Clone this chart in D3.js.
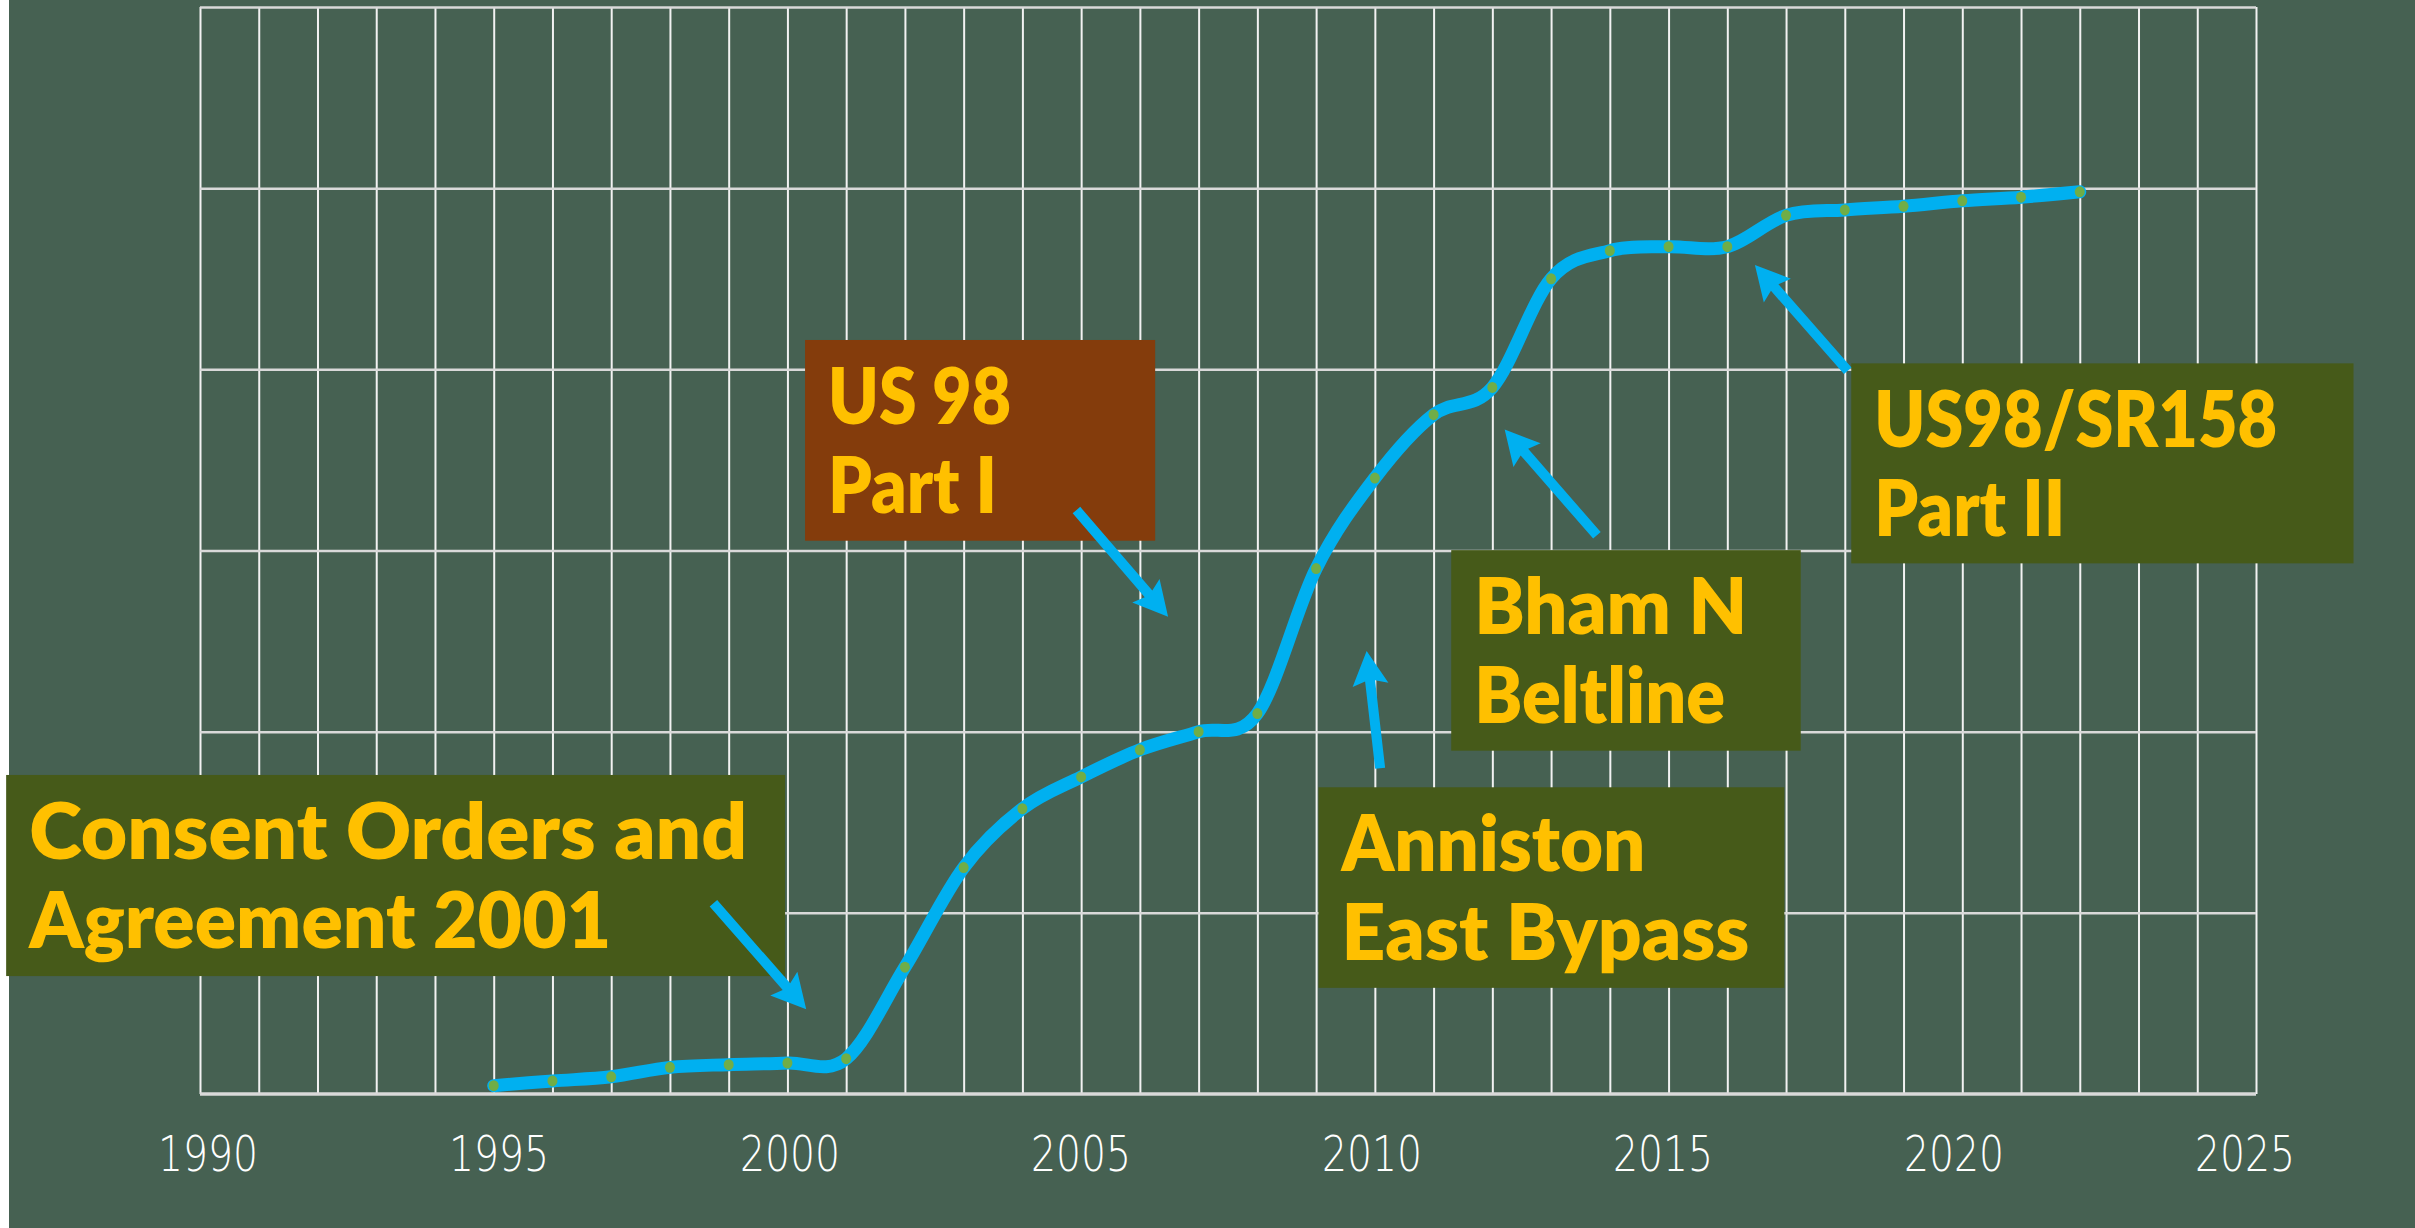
<!DOCTYPE html>
<html>
<head>
<meta charset="utf-8">
<script src="https://cdn.jsdelivr.net/npm/d3@7/dist/d3.min.js"></script>
<style>
  body { margin: 0; background: #ffffff; }
  svg { display: block; }
</style>
</head>
<body>
<svg id="chart" width="2415" height="1228"></svg>
<script>
// yearly totals (arbitrary units, grid = 10)
var years = [1995, 1996, 1997, 1998, 1999, 2000, 2001, 2002, 2003, 2004,
             2005, 2006, 2007, 2008, 2009, 2010, 2011, 2012, 2013, 2014,
             2015, 2016, 2017, 2018, 2019, 2020, 2021, 2022];
var totals = [0.46, 0.72, 0.95, 1.47, 1.62, 1.71, 1.95, 7.0, 12.5, 15.75,
              17.5, 19.0, 20.0, 21.0, 29.0, 34.0, 37.5, 39.0, 45.0, 46.55,
              46.77, 46.77, 48.5, 48.8, 49.0, 49.3, 49.5, 49.8];

var tickYears = [1990, 1995, 2000, 2005, 2010, 2015, 2020, 2025];
var tickLabels = ["1990", "1995", "2000", "2005", "2010", "2015", "2020", "2025"];

// callouts: text lines, box corners and arrow tail/tip in data units
var noteLines = [
  ["Consent Orders and", "Agreement 2001"],
  ["US 98", "Part I"],
  ["Bham N", "Beltline"],
  ["Anniston", "East Bypass"],
  ["US98/SR158", "Part II"]
];
var noteBoxYears = [[1986.70, 1999.96], [2000.30, 2006.26], [2011.30, 2017.25], [2009.04, 2016.97], [2018.11, 2026.66]];
var noteBoxValues = [[17.61, 6.51], [41.62, 30.54], [30.02, 18.95], [16.93, 5.86], [40.33, 29.29]];
var arrowTails = [[1998.74, 10.53], [2004.92, 32.23], [2013.78, 30.84], [2010.09, 17.98], [2018.05, 39.92]];
var arrowTips = [[2000.32, 4.68], [2006.48, 26.35], [2012.21, 36.68], [2009.86, 24.45], [2016.47, 45.76]];

var noteFills = ["#465a19", "#843c0c", "#465a19", "#465a19", "#465a19"];
var noteWidths = [[718, 582], [183, 169], [273, 251], [304, 408], [403, 191]];

var svg = d3.select("#chart");

var plotL = 200, plotR = 2256, plotT = 7, plotB = 1094;

var x = d3.scaleLinear().domain([1990, 2025]).range([plotL, plotR]);
var y = d3.scaleLinear().domain([0, 60]).range([plotB, plotT]);
// the tick labels sit a bit inside the outer gridlines
var xLabel = d3.scaleLinear().domain([1990, 2025]).range([208, 2245]);

svg.append("rect")
  .attr("x", 9).attr("y", 0)
  .attr("width", 2415 - 9).attr("height", 1228)
  .attr("fill", "#466152");

// vertical grid, one line per year
svg.append("g")
  .attr("transform", "translate(0," + plotB + ")")
  .call(d3.axisBottom(x).tickValues(d3.range(1990, 2026)).tickSize(-(plotB - plotT)).tickFormat(""))
  .call(function(g) {
    g.select(".domain").remove();
    g.selectAll("line").attr("stroke", "#f2f2f2").attr("stroke-width", 2);
  });

// horizontal grid
svg.append("g")
  .attr("transform", "translate(" + plotL + ",0)")
  .call(d3.axisLeft(y).tickValues([10, 20, 30, 40, 50, 60]).tickSize(-(plotR - plotL)).tickFormat(""))
  .call(function(g) {
    g.select(".domain").remove();
    g.selectAll("line").attr("stroke", "#d9d9d9").attr("stroke-width", 2.5);
  });

svg.append("line")
  .attr("x1", plotL).attr("x2", plotR)
  .attr("y1", y(0)).attr("y2", y(0))
  .attr("stroke", "#d9d9d9").attr("stroke-width", 3.5);

svg.append("g").selectAll("text")
  .data(tickYears)
  .enter().append("text")
    .attr("x", function(d) { return xLabel(d); })
    .attr("y", 1171)
    .attr("text-anchor", "middle")
    .attr("font-family", "'DejaVu Sans', sans-serif")
    .attr("font-weight", 200)
    .attr("font-size", 50)
    .attr("fill", "#ffffff")
    .attr("textLength", 100)
    .attr("lengthAdjust", "spacingAndGlyphs")
    .text(function(d, i) { return tickLabels[i]; });

// the smoothed line
var points = years.map(function(yr, i) { return [yr, totals[i]]; });
var line = d3.line()
  .x(function(d) { return x(d[0]); })
  .y(function(d) { return y(d[1]); })
  .curve(d3.curveCardinal.tension(0));

svg.append("path")
  .datum(points)
  .attr("d", line)
  .attr("fill", "none")
  .attr("stroke", "#00b0f0")
  .attr("stroke-width", 13)
  .attr("stroke-linecap", "round")
  .attr("stroke-linejoin", "round");

svg.append("g").selectAll("ellipse")
  .data(points)
  .enter().append("ellipse")
    .attr("cx", function(d) { return x(d[0]); })
    .attr("cy", function(d) { return y(d[1]); })
    .attr("rx", 5)
    .attr("ry", 5.5)
    .attr("fill", "#70ad47");

// callout boxes
var notes = svg.append("g").selectAll("g")
  .data(noteLines)
  .enter().append("g");

notes.append("rect")
  .attr("x", function(d, i) { return x(noteBoxYears[i][0]); })
  .attr("y", function(d, i) { return y(noteBoxValues[i][0]); })
  .attr("width", function(d, i) { return x(noteBoxYears[i][1]) - x(noteBoxYears[i][0]); })
  .attr("height", function(d, i) { return y(noteBoxValues[i][1]) - y(noteBoxValues[i][0]); })
  .attr("fill", function(d, i) { return noteFills[i]; });

notes.each(function(lines, i) {
  var g = d3.select(this);
  var bx = x(noteBoxYears[i][0]) + 23;
  var by = y(noteBoxValues[i][0]);
  lines.forEach(function(t, j) {
    g.append("text")
      .attr("x", bx)
      .attr("y", by + 84 + j * 89)
      .attr("font-family", "Lato, 'Open Sans', sans-serif")
      .attr("font-weight", 800)
      .attr("font-size", 78)
      .attr("fill", "#ffc000")
      .attr("textLength", noteWidths[i][j])
      .attr("lengthAdjust", "spacingAndGlyphs")
      .text(t);
  });
});

// arrows from each box toward the line
var headLen = 34, headWide = 36, shaft = 10;
svg.append("g").selectAll("path")
  .data(arrowTails)
  .enter().append("path")
    .attr("fill", "#00b0f0")
    .attr("d", function(d, i) {
      var x0 = x(d[0]), y0 = y(d[1]);
      var x1 = x(arrowTips[i][0]), y1 = y(arrowTips[i][1]);
      var len = Math.hypot(x1 - x0, y1 - y0);
      var ux = (x1 - x0) / len, uy = (y1 - y0) / len;
      var nx = -uy, ny = ux;
      var bx = x1 - ux * headLen, by = y1 - uy * headLen;
      var p = d3.path();
      p.moveTo(x0 + nx * shaft / 2, y0 + ny * shaft / 2);
      p.lineTo(bx + ux * 4 + nx * shaft / 2, by + uy * 4 + ny * shaft / 2);
      p.lineTo(bx + nx * headWide / 2, by + ny * headWide / 2);
      p.lineTo(x1, y1);
      p.lineTo(bx - nx * headWide / 2, by - ny * headWide / 2);
      p.lineTo(bx + ux * 4 - nx * shaft / 2, by + uy * 4 - ny * shaft / 2);
      p.lineTo(x0 - nx * shaft / 2, y0 - ny * shaft / 2);
      p.closePath();
      return p.toString();
    });
</script>
</body>
</html>
